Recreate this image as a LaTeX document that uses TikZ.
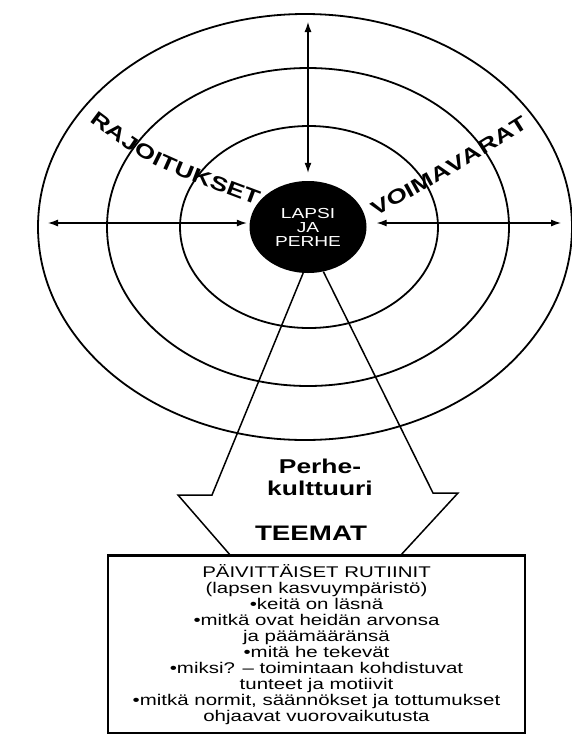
\documentclass[tikz,border=0pt]{standalone}
\usepackage{fontspec}
\setmainfont[FakeStretch=1.32]{Liberation Sans}
\usetikzlibrary{arrows.meta,calc,positioning,decorations.text,shapes.geometric}

\begin{document}
\begin{tikzpicture}[x=1pt,y=-1pt,
  ring/.style={line width=1.8pt},
  dblarrow/.style={{Latex[length=10pt,width=7pt]}-{Latex[length=10pt,width=7pt]},line width=1.2pt},
  outline/.style={line width=1.5pt},
  biglab/.style={font=\bfseries\fontsize{20}{22}\selectfont}]
\useasboundingbox (0,0) rectangle (572,740);
\coordinate (ctr) at (308,227);
\draw[ring] (305,227) ellipse [x radius=267, y radius=213];
\draw[ring] (308,227) ellipse [x radius=201, y radius=159];
\draw[ring] (309,227) ellipse [x radius=129, y radius=101];
\node[ellipse,fill=black,minimum width=117pt,minimum height=92pt,inner sep=0pt,
  text=white,align=center,font=\fontsize{14.5}{14}\selectfont] (lapsi) at (ctr) {LAPSI\\JA\\PERHE};
\coordinate (nup) at (308,22);
\coordinate (wleft) at (48,223);
\coordinate (eright) at (561,223);
\draw[dblarrow,shorten >=8pt] (nup) -- (lapsi);
\draw[dblarrow,shorten >=2.5pt] (wleft) -- (wleft -| lapsi.west);
\draw[dblarrow,shorten >=10pt] (eright) -- (eright -| lapsi.east);
\path[decorate,decoration={text along path,text align=center,raise=-7pt,
  text={|\bfseries\fontsize{20}{20}\selectfont|RAJOITUKSET}}] (98,119) .. controls (150,158) .. (254,197);
\path[decorate,decoration={text along path,text align=center,raise=-7pt,
  text={|\bfseries\fontsize{20}{20}\selectfont|VOIMAVARAT}}] (378,207) .. controls (450,168) .. (520,124);
\node[draw,line width=1.3pt,minimum width=417pt,minimum height=177pt,inner sep=0pt,
  align=center,font=\fontsize{15.5}{16}\selectfont] (rutiinit) at (316.5,644.5)
  {PÄIVITTÄISET RUTIINIT\\(lapsen kasvuympäristö)\\•keitä on läsnä\\•mitkä ovat heidän arvonsa\\
   ja päämääränsä\\•mitä he tekevät\\•miksi? – toimintaan kohdistuvat\\tunteet ja motiivit\\
   •mitkä normit, säännökset ja tottumukset\\ohjaavat vuorovaikutusta};
\draw[line width=2.2pt] (rutiinit.north west) -- (rutiinit.north east);
\coordinate (nl) at (212,495);
\coordinate (bl) at (178,495);
\coordinate (fl) at (231,556);
\coordinate (nr) at (433,493);
\coordinate (br) at (458,493);
\coordinate (fr) at (400,556);
\draw[outline] (lapsi.-96) -- (nl) -- (bl) -- (fl);
\draw[outline] (lapsi.-71) -- (nr) -- (br) -- (fr);
\node[biglab,align=center] (kulttuuri) at (320,477) {Perhe-\\kulttuuri};
\node[font=\bfseries\fontsize{21}{21}\selectfont] (teemat) at (311,533) {TEEMAT};
\end{tikzpicture}
\end{document}
